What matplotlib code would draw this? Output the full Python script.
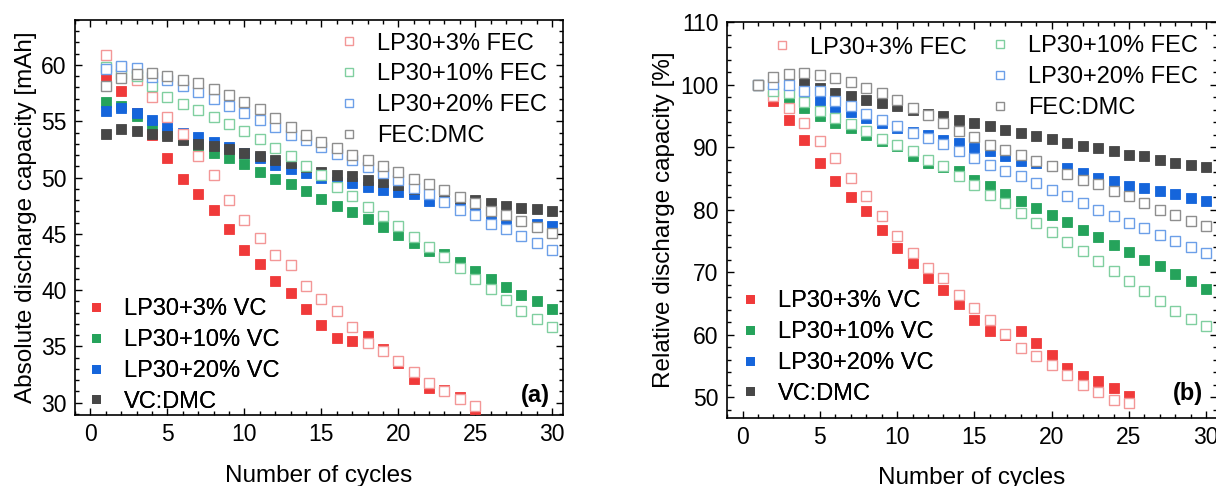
import numpy as np
import matplotlib.pyplot as plt
from matplotlib.ticker import MultipleLocator

plt.rcParams['font.family'] = ['Liberation Sans', 'DejaVu Sans']

# =========================
# 1. Data
# =========================
cycles = np.arange(1, 31)
cycles_3 = np.arange(1, 26)      # the 3 % cells stop after 25 cycles

labels_vc = ["LP30+3% VC", "LP30+10% VC", "LP30+20% VC", "VC:DMC"]
labels_fec = ["LP30+3% FEC", "LP30+10% FEC", "LP30+20% FEC", "FEC:DMC"]

# absolute discharge capacity [mAh]
abs_vc3 = [59.0, 57.7, 55.7, 53.8, 51.7, 49.9, 48.5, 47.1, 45.4, 43.6, 42.3, 40.8, 39.7,
           38.3, 36.9, 35.7, 35.5, 35.9, 34.8, 33.5, 32.1, 31.3, 31.1, 30.5, 29.4]
abs_vc10 = [56.7, 56.4, 55.5, 54.7, 54.0, 53.4, 52.7, 52.2, 51.7, 51.2, 50.5, 49.9, 49.4, 48.8, 48.1,
            47.5, 46.9, 46.3, 45.6, 44.9, 44.2, 43.5, 43.2, 42.5, 41.7, 41.0, 40.3, 39.6, 39.0, 38.3]
abs_vc20 = [55.9, 56.2, 55.7, 55.1, 54.6, 54.0, 53.6, 53.2, 52.7, 52.2, 51.7, 51.1, 50.8, 50.4, 50.0,
            49.6, 49.5, 49.2, 48.9, 48.7, 48.5, 47.9, 47.8, 47.6, 47.1, 46.6, 46.3, 46.1, 45.9, 45.7]
abs_vcdmc = [53.9, 54.3, 54.1, 53.9, 53.7, 53.3, 53.0, 52.8, 52.5, 52.2, 51.9, 51.6, 51.3, 50.9, 50.5,
             50.2, 50.1, 49.8, 49.6, 49.3, 49.0, 48.7, 48.5, 48.2, 48.0, 47.7, 47.5, 47.3, 47.2, 47.0]
abs_fec3 = [60.9, 59.8, 58.7, 57.2, 55.4, 53.9, 51.9, 50.2, 48.0, 46.2, 44.6, 43.1, 42.2,
            40.4, 39.2, 38.1, 36.7, 35.3, 34.6, 33.7, 32.7, 31.7, 31.0, 30.3, 29.7]
abs_fec10 = [59.8, 59.2, 59.0, 58.1, 57.2, 56.5, 56.0, 55.4, 54.8, 54.1, 53.4, 52.6, 51.9, 51.0, 50.2,
             49.2, 48.4, 47.4, 46.6, 45.7, 44.7, 43.8, 42.9, 42.0, 41.0, 40.1, 39.1, 38.1, 37.4, 36.7]
abs_fec20 = [59.6, 59.9, 59.7, 58.9, 58.7, 58.1, 57.6, 57.0, 56.4, 55.7, 55.1, 54.5, 53.8, 53.3, 52.7,
             52.1, 51.6, 50.9, 50.4, 49.8, 49.1, 48.5, 47.8, 47.1, 46.7, 45.9, 45.4, 44.8, 44.2, 43.6]
abs_fecdmc = [58.1, 58.8, 59.2, 59.3, 59.0, 58.7, 58.4, 57.9, 57.3, 56.7, 56.1, 55.3, 54.5, 53.8, 53.2,
              52.6, 52.0, 51.6, 51.0, 50.5, 49.9, 49.4, 48.9, 48.3, 47.7, 47.0, 46.7, 46.1, 45.6, 45.1]

# relative discharge capacity [%]
rel_vc3 = [100, 97.4, 94.4, 91.2, 87.5, 84.5, 82.0, 79.8, 76.7, 73.8, 71.5, 69.0, 67.1,
           64.9, 62.4, 60.5, 60.0, 60.6, 58.6, 56.7, 54.6, 53.3, 52.6, 51.5, 50.1]
rel_vc10 = [100, 99.2, 97.6, 96.3, 95.0, 93.9, 93.0, 91.9, 90.9, 90.1, 88.6, 87.5, 86.8, 86.1, 84.8,
            83.7, 82.5, 81.3, 80.2, 79.1, 78.0, 76.8, 75.6, 74.3, 73.2, 71.9, 70.9, 69.7, 68.6, 67.3]
rel_vc20 = [100, 99.5, 99.0, 98.3, 97.4, 96.4, 95.6, 94.6, 93.8, 93.0, 92.4, 91.9, 91.1, 90.6, 89.8,
            89.3, 88.5, 87.8, 87.4, 86.9, 86.6, 85.8, 85.0, 84.6, 83.8, 83.5, 83.0, 82.5, 81.9, 81.4]
rel_vcdmc = [100, 100.7, 100.7, 100.2, 99.4, 98.7, 98.2, 97.6, 97.0, 96.5, 95.9, 95.3, 94.9, 94.3, 93.8,
             93.3, 92.7, 92.2, 91.7, 91.3, 90.7, 90.2, 89.8, 89.4, 88.8, 88.5, 88.0, 87.5, 87.2, 86.8]
rel_fec3 = [100, 98.2, 96.3, 93.8, 90.9, 88.3, 85.0, 82.2, 78.9, 75.8, 73.1, 70.6, 69.0,
            66.3, 64.2, 62.4, 60.1, 57.8, 56.6, 55.1, 53.5, 51.9, 50.8, 49.5, 49.0]
rel_fec10 = [100, 99.0, 98.6, 97.2, 95.7, 94.6, 93.7, 92.6, 91.3, 90.3, 89.3, 88.0, 86.9, 85.4, 84.0,
             82.3, 81.0, 79.4, 77.9, 76.4, 74.8, 73.3, 71.7, 70.2, 68.6, 67.0, 65.3, 63.7, 62.5, 61.3]
rel_fec20 = [100, 100.1, 99.9, 99.0, 98.9, 97.4, 96.6, 95.3, 94.3, 93.3, 92.3, 91.4, 90.5, 89.3, 88.3,
             87.2, 86.2, 85.3, 84.2, 83.2, 82.1, 81.0, 80.0, 78.9, 77.9, 77.0, 75.9, 74.9, 74.0, 73.0]
rel_fecdmc = [100, 101.2, 101.7, 101.8, 101.5, 101.0, 100.4, 99.5, 98.6, 97.5, 96.2, 95.1, 93.8, 92.6, 91.6,
              90.4, 89.5, 88.7, 87.7, 86.9, 85.7, 84.8, 84.1, 83.0, 82.2, 81.1, 80.0, 79.2, 78.2, 77.4]

fill_colors = ["#f03a3a", "#25a35b", "#1565db", "#474747"]
open_colors = ["#f39797", "#80cfa0", "#6c9fe8", "#8e8e8e"]

FS_TICK = 16.5
FS_LABEL = 17.5
FS_LEG = 17


# =========================
# 2. Helpers
# =========================
def draw_panel(ax, vc_sets, fec_sets):
    vc_handles, fec_handles = [], []
    for (x, y), c, lab in zip(vc_sets, fill_colors, labels_vc):
        h, = ax.plot(x, y, ls="none", marker="s", ms=7, mfc=c, mec=c, mew=0.6,
                     label=lab, zorder=3)
        vc_handles.append(h)
    for (x, y), c, lab in zip(fec_sets, open_colors, labels_fec):
        h, = ax.plot(x, y, ls="none", marker="s", ms=7, mfc="white", mec=c, mew=1.0,
                     label=lab, zorder=4)
        fec_handles.append(h)
    return vc_handles, fec_handles


def add_legend(ax, handles, anchor):
    leg = ax.legend(handles=handles, loc="upper left", bbox_to_anchor=anchor,
                    frameon=False, fontsize=FS_LEG, handlelength=1.0, handletextpad=0.7,
                    labelspacing=0.37, borderpad=0, borderaxespad=0, markerscale=0.8)
    ax.add_artist(leg)
    return leg


def style_axes(ax, ymajor, yminor):
    ax.set_xlim(-1, 30.7)
    ax.xaxis.set_major_locator(MultipleLocator(5))
    ax.xaxis.set_minor_locator(MultipleLocator(1))
    ax.yaxis.set_major_locator(MultipleLocator(ymajor))
    ax.yaxis.set_minor_locator(MultipleLocator(yminor))
    ax.tick_params(which="both", direction="in", top=True, right=True, width=1.0,
                   labelsize=FS_TICK)
    ax.tick_params(which="major", length=5)
    ax.tick_params(which="minor", length=3)
    ax.tick_params(axis="x", pad=6)
    ax.tick_params(axis="y", pad=6)
    for sp in ax.spines.values():
        sp.set_linewidth(1.2)


# =========================
# 3. Figure
# =========================
fig = plt.figure(figsize=(12.16, 4.86), dpi=100)
ax1 = fig.add_axes([0.0617, 0.1461, 0.4013, 0.8128])
ax2 = fig.add_axes([0.5979, 0.1399, 0.4030, 0.8148])

# (a) absolute capacity
vc_h, fec_h = draw_panel(
    ax1,
    [(cycles_3, abs_vc3), (cycles, abs_vc10), (cycles, abs_vc20), (cycles, abs_vcdmc)],
    [(cycles_3, abs_fec3), (cycles, abs_fec10), (cycles, abs_fec20), (cycles, abs_fecdmc)],
)
style_axes(ax1, 5, 1)
ax1.set_ylim(28.9, 64)
add_legend(ax1, fec_h, (0.537, 0.968))
add_legend(ax1, vc_h, (0.018, 0.295))
ax1.set_xlabel("Number of cycles", fontsize=FS_LABEL)
ax1.set_ylabel("Absolute discharge capacity [mAh]", fontsize=FS_LABEL)
ax1.xaxis.set_label_coords(0.5, -0.127)
ax1.yaxis.set_label_coords(-0.078, 0.5)
ax1.text(0.973, 0.05, "(a)", transform=ax1.transAxes, ha="right", va="center",
         fontsize=FS_LEG, fontweight="bold")

# (b) relative capacity
vc_h, fec_h = draw_panel(
    ax2,
    [(cycles_3, rel_vc3), (cycles, rel_vc10), (cycles, rel_vc20), (cycles, rel_vcdmc)],
    [(cycles_3, rel_fec3), (cycles, rel_fec10), (cycles, rel_fec20), (cycles, rel_fecdmc)],
)
style_axes(ax2, 10, 2)
ax2.set_ylim(46.64, 110)
add_legend(ax2, fec_h[:1], (0.088, 0.9634))
add_legend(ax2, fec_h[1:], (0.533, 0.966))
add_legend(ax2, vc_h, (0.022, 0.322))
ax2.set_xlabel("Number of cycles", fontsize=FS_LABEL)
ax2.set_ylabel("Relative discharge capacity [%]", fontsize=FS_LABEL)
ax2.xaxis.set_label_coords(0.5, -0.123)
ax2.yaxis.set_label_coords(-0.106, 0.5)
ax2.text(0.971, 0.063, "(b)", transform=ax2.transAxes, ha="right", va="center",
         fontsize=FS_LEG, fontweight="bold")

fig.savefig("out.png", dpi=100)
